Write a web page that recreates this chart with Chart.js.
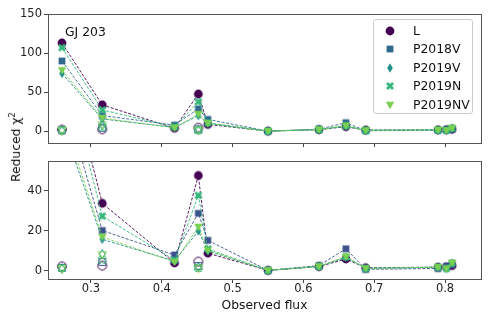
<!DOCTYPE html>
<html>
<head>
<meta charset="utf-8">
<script src="https://cdn.jsdelivr.net/npm/chart.js@4"></script>
<style>
    body { margin: 0; background: #fff; width: 490px; height: 319px; position: relative; overflow: hidden; font-family: "DejaVu Sans", sans-serif; color: #111; }
    canvas.panel { position: absolute; left: 0; }
    #topChart { top: 0; }
    #botChart { top: 152px; }
    #ylabel { position: absolute; left: 15px; top: 147px; transform: translate(-50%, -50%) rotate(-90deg); white-space: nowrap; font-size: 12.3px; }
    #ylabel sup { font-size: 8.5px; }
    #star { position: absolute; left: 65px; top: 25px; font-size: 12.4px; line-height: 14px; }
    #legend { position: absolute; left: 373px; top: 19px; width: 100px; height: 95px; border: 1px solid #ccc; border-radius: 3px; background: rgba(255,255,255,0.8); box-sizing: border-box; padding-top: 2px; }
    .row { height: 18.4px; position: relative; font-size: 12.4px; }
    .row canvas { position: absolute; left: 9px; top: 2px; }
    .row span { position: absolute; left: 39px; top: 2px; line-height: 14px; }
</style>
</head>
<body>
<canvas id="topChart" class="panel" width="490" height="152"></canvas>
<canvas id="botChart" class="panel" width="490" height="167"></canvas>
<div id="ylabel">Reduced χ<sup>2</sup></div>
<div id="star">GJ 203</div>
<div id="legend"></div>

<script>
// ---- data ----
const fluxObs = [0.259, 0.316, 0.418, 0.4516, 0.465, 0.550, 0.622, 0.660, 0.688, 0.790, 0.802, 0.810];
const seriesNames = ['L', 'P2018V', 'P2019V', 'P2019N', 'P2019NV'];
const chiL       = [113, 33.8, 4.0, 47.7, 8.9, 0.3, 2.2, 6.0, 1.6, 1.9, 2.0, 2.7];
const chiP2018V  = [90, 20.2, 8.0, 28.8, 15.3, 0.3, 2.7, 11.1, 0.8, 1.3, 2.4, 3.0];
const chiP2019V  = [74, 15.8, 5.0, 20.0, 10.0, 0.3, 2.3, 6.8, 1.3, 1.9, 1.2, 4.0];
const chiP2019N  = [107, 27.4, 5.5, 37.8, 11.0, 0.3, 2.3, 7.0, 1.3, 1.9, 1.2, 4.0];
const chiP2019NV = [78, 17.0, 4.5, 22.0, 10.3, 0.3, 2.3, 7.2, 1.3, 1.9, 1.2, 4.0];

// open (unfilled) markers at three fluxes
const fluxOpen = [0.259, 0.316, 0.4516];
const openL       = [2.3, 2.7, 4.7];
const openP2018V  = [1.5, 4.5, 2.5];
const openP2019V  = [1.2, 8.4, 2.0];
const openP2019N  = [1.5, 5.6, 1.5];
const openP2019NV = [1.0, 8.0, 1.3];

const topTicksY = [0, 50, 100, 150];
const botTicksY = [0, 20, 40];
const ticksX = [0.3, 0.4, 0.5, 0.6, 0.7, 0.8];

const allChi = [chiL, chiP2018V, chiP2019V, chiP2019N, chiP2019NV];
const allOpen = [openL, openP2018V, openP2019V, openP2019N, openP2019NV];
const shapes = ['circle', 'square', 'diamond', 'x', 'tri'];
const coloursTop = ['#440154', '#31688e', '#21918c', '#35b779', '#7ad151'];
const coloursBot = ['#440154', '#3b528b', '#21918c', '#35b779', '#7ad151'];

const xMin = 0.2393, xMax = 0.8508;

// ---- markers ----
function makeMarker(shape, color, filled) {
    const c = document.createElement('canvas');
    c.width = 14; c.height = 14;
    const g = c.getContext('2d');
    g.translate(7, 7);
    g.beginPath();
    if (shape === 'circle') {
        g.arc(0, 0, 4.4, 0, Math.PI * 2);
    } else if (shape === 'square') {
        g.rect(-3.4, -3.4, 6.8, 6.8);
    } else if (shape === 'diamond') {
        g.moveTo(0, -4.7); g.lineTo(2.8, 0); g.lineTo(0, 4.7); g.lineTo(-2.8, 0); g.closePath();
    } else if (shape === 'x') {
        const p = [[-0.25,-0.5],[0,-0.25],[0.25,-0.5],[0.5,-0.25],[0.25,0],[0.5,0.25],[0.25,0.5],[0,0.25],[-0.25,0.5],[-0.5,0.25],[-0.25,0],[-0.5,-0.25]];
        p.forEach((q, i) => { const x = q[0] * 8, y = q[1] * 8; if (i) g.lineTo(x, y); else g.moveTo(x, y); });
        g.closePath();
    } else {
        g.moveTo(0, 4.2); g.lineTo(-4.2, -3.2); g.lineTo(4.2, -3.2); g.closePath();
    }
    if (filled) {
        g.fillStyle = color; g.fill();
    } else {
        g.strokeStyle = color; g.lineWidth = 1; g.stroke();
    }
    return c;
}

function buildDatasets(colours) {
    const ds = [];
    allChi.forEach((vals, i) => {
        ds.push({
            label: seriesNames[i],
            data: fluxObs.map((x, k) => ({ x: x, y: vals[k] })),
            borderColor: colours[i],
            borderWidth: 0.9,
            borderDash: [3, 1.6],
            pointStyle: makeMarker(shapes[i], colours[i], true),
            pointRadius: 4,
            order: 5 - i
        });
    });
    allOpen.forEach((vals, i) => {
        ds.push({
            label: seriesNames[i] + ' (open)',
            data: fluxOpen.map((x, k) => ({ x: x, y: vals[k] })),
            showLine: false,
            pointStyle: makeMarker(shapes[i], colours[i], false),
            pointRadius: 4,
            order: 10 - i
        });
    });
    return ds;
}

// frame on all four sides like matplotlib spines
const framePlugin = {
    id: 'frame',
    afterDraw(chart) {
        const a = chart.chartArea, ctx = chart.ctx;
        ctx.save();
        ctx.strokeStyle = '#555';
        ctx.lineWidth = 1;
        ctx.strokeRect(Math.round(a.left) + 0.5, Math.round(a.top) + 0.5, Math.round(a.right - a.left), Math.round(a.bottom - a.top));
        ctx.restore();
    }
};

const tickFont = { family: 'DejaVu Sans', size: 11.5 };

function yAxis(min, max, ticks) {
    return {
        type: 'linear', min: min, max: max,
        afterBuildTicks: s => { s.ticks = ticks.map(v => ({ value: v })); },
        ticks: { font: tickFont, color: '#222', padding: 2 },
        grid: { drawOnChartArea: false, tickLength: 4, color: '#444' },
        border: { display: false },
        afterFit: s => { s.width = 48; }
    };
}

function xAxis(showLabels) {
    return {
        type: 'linear', min: xMin, max: xMax,
        afterBuildTicks: s => { s.ticks = ticksX.map(v => ({ value: v })); },
        ticks: { display: showLabels, font: tickFont, color: '#222', padding: -1, maxRotation: 0,
                 callback: v => v.toFixed(1) },
        grid: { drawOnChartArea: false, tickLength: 4, color: '#444' },
        border: { display: false },
        title: { display: showLabels, text: 'Observed flux', font: { family: 'DejaVu Sans', size: 12.3 }, color: '#111', padding: { top: 0, bottom: 6 } },
        afterFit: s => { s.height = showLabels ? 40 : 5; }
    };
}

Chart.defaults.font.family = 'DejaVu Sans';

new Chart(document.getElementById('topChart'), {
    type: 'line',
    data: { datasets: buildDatasets(coloursTop) },
    options: {
        responsive: false, animation: false, events: [],
        layout: { padding: { top: 14, right: 9, left: 0, bottom: 0 } },
        plugins: { legend: { display: false }, tooltip: { enabled: false } },
        scales: { x: xAxis(false), y: yAxis(-15, 150, topTicksY) }
    },
    plugins: [framePlugin]
});

new Chart(document.getElementById('botChart'), {
    type: 'line',
    data: { datasets: buildDatasets(coloursBot) },
    options: {
        responsive: false, animation: false, events: [],
        layout: { padding: { top: 5, right: 9, left: 0, bottom: 0 } },
        plugins: { legend: { display: false }, tooltip: { enabled: false } },
        scales: { x: xAxis(true), y: yAxis(-4, 55, botTicksY) }
    },
    plugins: [framePlugin]
});

// ---- legend ----
const legend = document.getElementById('legend');
seriesNames.forEach((name, i) => {
    const row = document.createElement('div');
    row.className = 'row';
    row.appendChild(makeMarker(shapes[i], coloursTop[i], true));
    const t = document.createElement('span');
    t.textContent = name;
    row.appendChild(t);
    legend.appendChild(row);
});
</script>
</body>
</html>
